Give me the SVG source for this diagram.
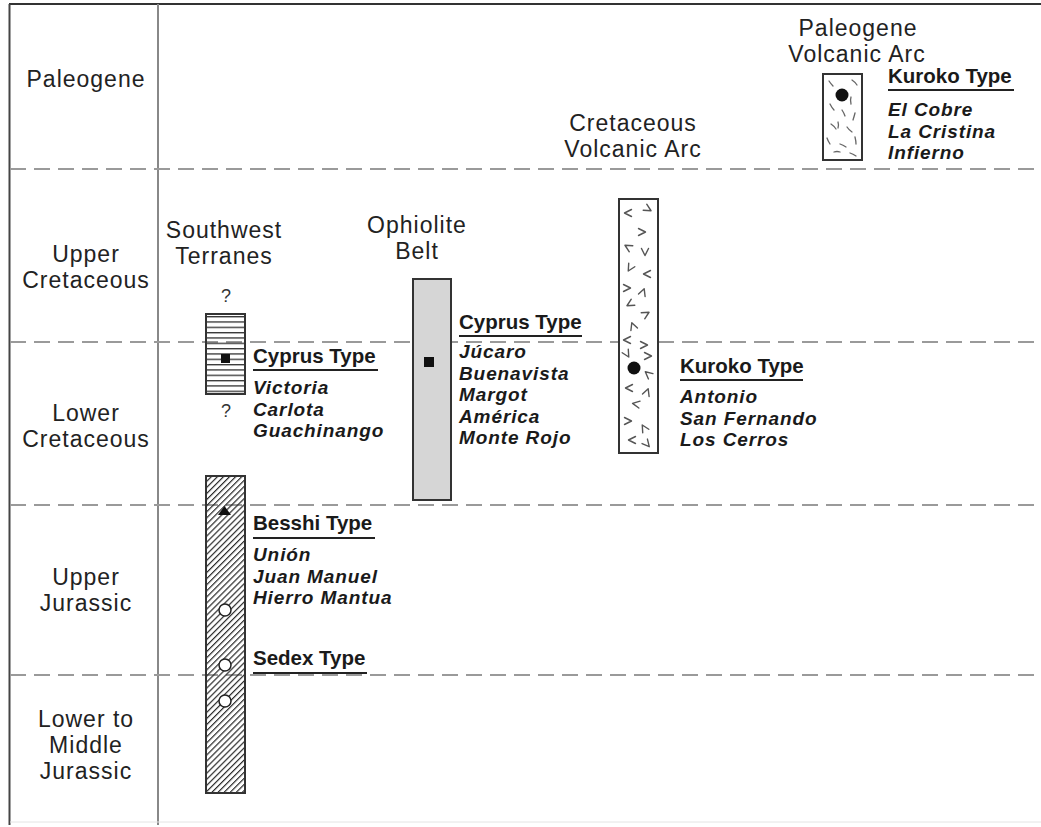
<svg xmlns="http://www.w3.org/2000/svg" xmlns:xlink="http://www.w3.org/1999/xlink" width="1041" height="827" viewBox="0 0 1041 827">
<style>
.lbl{font-family:"Liberation Sans",Arial,sans-serif;font-size:23px;letter-spacing:1px;fill:#222;text-anchor:middle}
.q{font-family:"Liberation Sans",Arial,sans-serif;font-size:18px;fill:#333;text-anchor:middle}
.hd{font-family:"Liberation Sans",Arial,sans-serif;font-size:20.5px;font-weight:bold;fill:#1a1a1a}
.it{font-family:"Liberation Sans",Arial,sans-serif;font-size:19px;letter-spacing:0.9px;font-weight:bold;font-style:italic;fill:#1a1a1a}
.ul{stroke:#222;stroke-width:2}
.dash{stroke:#9a9a9a;stroke-width:2;stroke-dasharray:16 8;fill:none}
.col{stroke:#333;stroke-width:2}
.vm{fill:none;stroke:#555;stroke-width:1.4;stroke-linecap:round;stroke-linejoin:round}
.dm{stroke:#666;stroke-width:1.3;stroke-linecap:round;fill:none}
.occ{fill:#fff;stroke:#222;stroke-width:1.5}
</style>
<defs>
<pattern id="hlines" patternUnits="userSpaceOnUse" x="0" y="316" width="40" height="5.33">
<line x1="0" y1="0.7" x2="40" y2="0.7" stroke="#333" stroke-width="1.4"/>
</pattern>
<pattern id="diag" patternUnits="userSpaceOnUse" width="4.3" height="10" patternTransform="rotate(45)">
<line x1="0" y1="0" x2="0" y2="10" stroke="#2a2a2a" stroke-width="2.4"/>
</pattern>
<path id="v" d="M-3.5,-3.5 L0,3.5 L3.5,-3.5"/>
</defs>

<g id="frame">
<line x1="9" y1="4" x2="1041" y2="4" stroke="#333" stroke-width="2"/>
<line x1="9.5" y1="4" x2="9.5" y2="825" stroke="#444" stroke-width="2"/>
<line x1="158" y1="4" x2="158" y2="825" stroke="#888" stroke-width="2"/>
<line x1="10" y1="822" x2="1041" y2="822" stroke="#e4e4e4" stroke-width="1"/>
<line class="dash" x1="10" y1="169" x2="1041" y2="169"/>
<line class="dash" x1="10" y1="342" x2="1041" y2="342"/>
<line class="dash" x1="10" y1="505" x2="1041" y2="505"/>
<line class="dash" x1="10" y1="675" x2="1041" y2="675"/>
</g>

<g id="periods">
<text class="lbl" x="86" y="87">Paleogene</text>
<text class="lbl" x="86" y="261.5">Upper</text>
<text class="lbl" x="86" y="287.5">Cretaceous</text>
<text class="lbl" x="86" y="420.5">Lower</text>
<text class="lbl" x="86" y="446.5">Cretaceous</text>
<text class="lbl" x="86" y="585">Upper</text>
<text class="lbl" x="86" y="611">Jurassic</text>
<text class="lbl" x="86" y="726.5">Lower to</text>
<text class="lbl" x="86" y="752.5">Middle</text>
<text class="lbl" x="86" y="778.5">Jurassic</text>
</g>

<g id="southwest-terranes">
<text class="lbl" x="224" y="238">Southwest</text>
<text class="lbl" x="224" y="264">Terranes</text>
<text class="q" x="226" y="302">?</text>
<rect x="206" y="314" width="39" height="80" fill="url(#hlines)" class="col"/>
<rect x="221" y="354" width="9" height="9" fill="#111"/>
<text class="q" x="226" y="417">?</text>
<text class="hd" x="253" y="363">Cyprus Type</text>
<line class="ul" x1="253" y1="370" x2="378" y2="370"/>
<text class="it" x="253" y="394">Victoria</text>
<text class="it" x="253" y="415.5">Carlota</text>
<text class="it" x="253" y="437">Guachinango</text>
<rect x="206" y="476" width="39" height="317" fill="url(#diag)" class="col"/>
<polygon points="224.5,506 218,515 231,515" fill="#111"/>
<circle class="occ" cx="225" cy="610" r="6"/>
<circle class="occ" cx="225" cy="665" r="6"/>
<circle class="occ" cx="225" cy="701" r="6"/>
<text class="hd" x="253" y="530">Besshi Type</text>
<line class="ul" x1="253" y1="538" x2="375" y2="538"/>
<text class="it" x="253" y="561">Unión</text>
<text class="it" x="253" y="582.5">Juan Manuel</text>
<text class="it" x="253" y="604">Hierro Mantua</text>
<text class="hd" x="253" y="665">Sedex Type</text>
<line class="ul" x1="253" y1="673" x2="367" y2="673"/>
</g>

<g id="ophiolite-belt">
<text class="lbl" x="417" y="233">Ophiolite</text>
<text class="lbl" x="417" y="259">Belt</text>
<rect x="413" y="279" width="38" height="221" fill="#d6d6d6" class="col"/>
<rect x="424" y="357" width="10" height="10" fill="#111"/>
<text class="hd" x="459" y="329">Cyprus Type</text>
<line class="ul" x1="459" y1="336" x2="582" y2="336"/>
<text class="it" x="459" y="358">Júcaro</text>
<text class="it" x="459" y="379.5">Buenavista</text>
<text class="it" x="459" y="401">Margot</text>
<text class="it" x="459" y="422.5">América</text>
<text class="it" x="459" y="444">Monte Rojo</text>
</g>

<g id="cretaceous-volcanic-arc">
<text class="lbl" x="633" y="130.5">Cretaceous</text>
<text class="lbl" x="633" y="156.5">Volcanic Arc</text>
<rect x="619" y="199" width="39" height="254" fill="#fff" class="col"/>
<g class="vm">
<use xlink:href="#v" transform="translate(628,213) rotate(90)"/>
<use xlink:href="#v" transform="translate(648,209) rotate(-60)"/>
<use xlink:href="#v" transform="translate(642,232) rotate(-90)"/>
<use xlink:href="#v" transform="translate(628,247) rotate(120)"/>
<use xlink:href="#v" transform="translate(645,252) rotate(0)"/>
<use xlink:href="#v" transform="translate(630,268) rotate(30)"/>
<use xlink:href="#v" transform="translate(647,274) rotate(90)"/>
<use xlink:href="#v" transform="translate(627,288) rotate(-90)"/>
<use xlink:href="#v" transform="translate(643,292) rotate(200)"/>
<use xlink:href="#v" transform="translate(630,304) rotate(60)"/>
<use xlink:href="#v" transform="translate(646,314) rotate(-120)"/>
<use xlink:href="#v" transform="translate(633,326) rotate(160)"/>
<use xlink:href="#v" transform="translate(627,340) rotate(90)"/>
<use xlink:href="#v" transform="translate(644,345) rotate(-90)"/>
<use xlink:href="#v" transform="translate(627,354) rotate(-30)"/>
<use xlink:href="#v" transform="translate(648,356) rotate(-90)"/>
<use xlink:href="#v" transform="translate(648,374) rotate(130)"/>
<use xlink:href="#v" transform="translate(629,388) rotate(90)"/>
<use xlink:href="#v" transform="translate(647,392) rotate(200)"/>
<use xlink:href="#v" transform="translate(636,404) rotate(100)"/>
<use xlink:href="#v" transform="translate(628,421) rotate(-90)"/>
<use xlink:href="#v" transform="translate(644,428) rotate(150)"/>
<use xlink:href="#v" transform="translate(632,440) rotate(90)"/>
<use xlink:href="#v" transform="translate(647,444) rotate(-40)"/>
</g>
<circle cx="634" cy="368" r="6.5" fill="#111"/>
<text class="hd" x="680" y="373">Kuroko Type</text>
<line class="ul" x1="680" y1="380" x2="803" y2="380"/>
<text class="it" x="680" y="403">Antonio</text>
<text class="it" x="680" y="424.5">San Fernando</text>
<text class="it" x="680" y="446">Los Cerros</text>
</g>

<g id="paleogene-volcanic-arc">
<text class="lbl" x="858" y="35.5">Paleogene</text>
<text class="lbl" x="857" y="61.5">Volcanic Arc</text>
<rect x="823" y="74" width="39" height="86" fill="#fff" class="col"/>
<g class="dm">
<path d="M852,80 q3,2 5,5"/>
<path d="M829,81 q2,3 4,5"/>
<path d="M851,97 q-1,3 0,7"/>
<path d="M830,104 q2,4 4,6"/>
<path d="M842,110 q2,3 3,6"/>
<path d="M855,113 q-1,4 -2,7"/>
<path d="M831,124 q3,2 5,5"/>
<path d="M847,127 q2,3 5,5"/>
<path d="M827,138 q1,3 3,6"/>
<path d="M855,137 q1,4 1,7"/>
<path d="M840,144 q3,1 6,3"/>
<path d="M834,152 q3,-1 6,0"/>
<path d="M850,153 q3,1 6,3"/>
<path d="M838,122 q1,3 0,6"/>
</g>
<circle cx="842" cy="95" r="6.5" fill="#111"/>
<text class="hd" x="888" y="83">Kuroko Type</text>
<line class="ul" x1="888" y1="90" x2="1014" y2="90"/>
<text class="it" x="888" y="116">El Cobre</text>
<text class="it" x="888" y="137.5">La Cristina</text>
<text class="it" x="888" y="159">Infierno</text>
</g>

<g id="connectors"></g>
</svg>
